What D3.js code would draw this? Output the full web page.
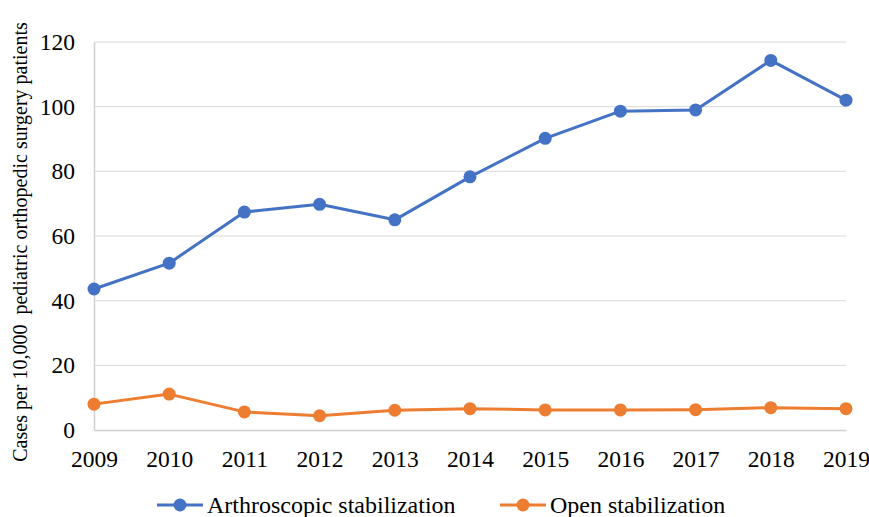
<!DOCTYPE html>
<html>
<head>
<meta charset="utf-8">
<script src="https://cdn.jsdelivr.net/npm/d3@7"></script>
<style>
  html, body { margin: 0; padding: 0; background: #fff; }
  svg { display: block; font-family: "Liberation Serif", "Times New Roman", serif; }
</style>
</head>
<body>
<svg id="chart" width="869" height="517"></svg>
<script>
const years = ["2009","2010","2011","2012","2013","2014","2015","2016","2017","2018","2019"];
const arthroscopic = [43.6, 51.6, 67.4, 69.8, 65.0, 78.3, 90.2, 98.6, 99.0, 114.3, 102.0];
const openStab = [8.0, 11.1, 5.6, 4.4, 6.1, 6.6, 6.2, 6.2, 6.3, 6.9, 6.6];
const yTicks = [0, 20, 40, 60, 80, 100, 120];
const seriesNames = ["Arthroscopic stabilization", "Open stabilization"];
const colors = ["#4472C4", "#ED7D31"];

const svg = d3.select("#chart");
const plot = { left: 94, right: 846, top: 42, bottom: 430 };
const tickFont = 23.5;
const serif = "'Liberation Serif', 'Times New Roman', serif";

const x = d3.scalePoint().domain(years).range([plot.left, plot.right]);
const y = d3.scaleLinear().domain([0, 120]).range([plot.bottom, plot.top]);

// horizontal gridlines
svg.append("g").selectAll("line").data(yTicks.filter(d => d > 0)).join("line")
  .attr("x1", plot.left).attr("x2", plot.right)
  .attr("y1", d => y(d)).attr("y2", d => y(d))
  .attr("stroke", "#d9d9d9").attr("stroke-width", 1);

// axes
const yAxis = svg.append("g").attr("transform", `translate(${plot.left},0)`)
  .call(d3.axisLeft(y).tickValues(yTicks).tickSize(0).tickPadding(19));
yAxis.select(".domain").attr("stroke", "#d0d0d0").attr("stroke-width", 1.5);
yAxis.selectAll("text").attr("font-size", tickFont).attr("fill", "#000")
  .attr("font-family", serif);

const xAxis = svg.append("g").attr("transform", `translate(0,${plot.bottom})`)
  .call(d3.axisBottom(x).tickSize(0).tickPadding(20));
xAxis.select(".domain").attr("stroke", "#d0d0d0").attr("stroke-width", 1.5);
xAxis.selectAll("text").attr("font-size", tickFont).attr("fill", "#000")
  .attr("font-family", serif);

// y axis title
svg.append("text")
  .attr("transform", "translate(27,242) rotate(-90)")
  .attr("text-anchor", "middle")
  .attr("font-size", 20)
  .attr("font-family", serif)
  .attr("fill", "#000")
  .style("white-space", "pre")
  .text("Cases per 10,000  pediatric orthopedic surgery patients");

// series
const line = d3.line().x((d, i) => x(years[i])).y(d => y(d));
[arthroscopic, openStab].forEach((vals, k) => {
  svg.append("path").datum(vals)
    .attr("d", line)
    .attr("fill", "none")
    .attr("stroke", colors[k])
    .attr("stroke-width", 3)
    .attr("stroke-linejoin", "round");
  svg.append("g").selectAll("circle").data(vals).join("circle")
    .attr("cx", (d, i) => x(years[i]))
    .attr("cy", d => y(d))
    .attr("r", 6.5)
    .attr("fill", colors[k]);
});

// legend
const legendX = [157, 500];
legendX.forEach((lx, k) => {
  const g = svg.append("g").attr("transform", `translate(${lx},505)`);
  g.append("line").attr("x1", 0).attr("x2", 46).attr("y1", 0).attr("y2", 0)
    .attr("stroke", colors[k]).attr("stroke-width", 3);
  g.append("circle").attr("cx", 23).attr("cy", 0).attr("r", 6.5).attr("fill", colors[k]);
  g.append("text").attr("x", 50).attr("y", 8).attr("font-size", 24)
    .attr("font-family", serif).attr("fill", "#000")
    .text(seriesNames[k]);
});
</script>
</body>
</html>
